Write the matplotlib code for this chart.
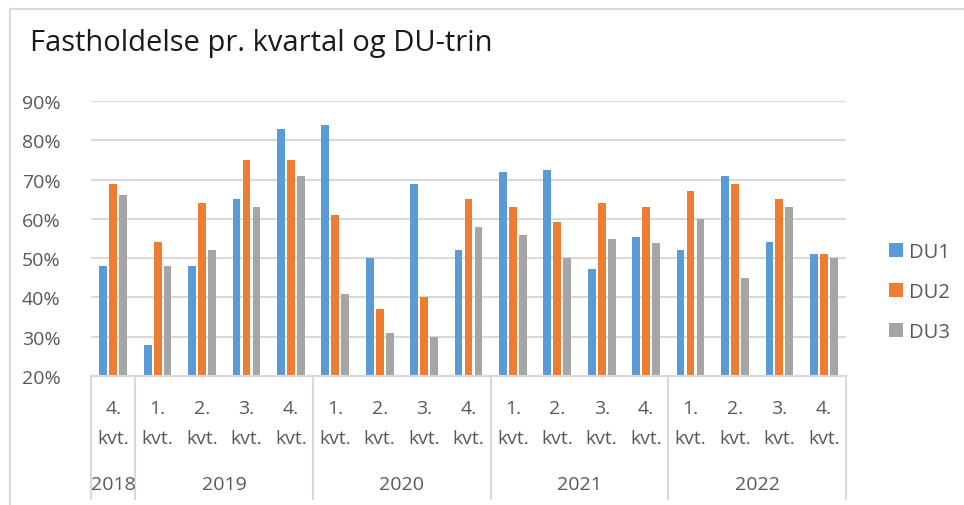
import matplotlib
matplotlib.use("Agg")
import matplotlib.pyplot as plt
from matplotlib.transforms import blended_transform_factory
from matplotlib.lines import Line2D
from matplotlib.patches import Patch
import numpy as np

plt.rcParams['font.family'] = ['Open Sans', 'DejaVu Sans']

quarters = ["4.", "1.", "2.", "3.", "4.", "1.", "2.", "3.", "4.",
            "1.", "2.", "3.", "4.", "1.", "2.", "3.", "4."]
years = ["2018", "2019", "2020", "2021", "2022"]
year_counts = [1, 4, 4, 4, 4]
du1 = [48, 28, 48, 65, 83, 84, 50, 69, 52, 72, 72.4, 47.3, 55.5, 52, 71, 54, 51]
du2 = [69, 54, 64, 75, 75, 61, 37, 40, 65, 63, 59.3, 64, 63, 67, 69, 65, 51]
du3 = [66, 48, 52, 63, 71, 41, 31, 30, 58, 56, 50, 55, 53.9, 60, 45, 63, 50]
series_names = ["DU1", "DU2", "DU3"]
colors = ["#5B9BD5", "#ED7D31", "#A5A5A5"]

W, H = 964, 506
fig = plt.figure(figsize=(W / 100, H / 100), dpi=100)
ax = fig.add_axes([91 / W, 1 - 377 / H, (846 - 91) / W, (377 - 102) / H])

x = np.arange(len(quarters))
off = 0.225
bw = 0.175
for i, (vals, c) in enumerate(zip([du1, du2, du3], colors)):
    ax.bar(x + (i - 1) * off, np.array(vals) / 100, width=bw, color=c, zorder=3)

ax.set_xlim(-0.5, len(quarters) - 0.5)
ax.set_ylim(0.2, 0.9)
yt = np.arange(0.2, 0.91, 0.1)
ax.set_yticks(yt)
ax.set_yticklabels([f"{int(round(v * 100))}%" for v in yt])
ax.tick_params(axis='y', length=0, pad=22, labelsize=14, labelcolor="#595959")
ax.set_xticks([])
ax.grid(axis='y', color="#D9D9D9", linewidth=1.5, zorder=0)
for s in ["top", "right", "left"]:
    ax.spines[s].set_visible(False)
ax.spines["bottom"].set_color("#D9D9D9")
ax.spines["bottom"].set_linewidth(1.5)
ax.spines["bottom"].set_zorder(4)

tr = blended_transform_factory(ax.transData, fig.transFigure)
tc = "#595959"
for i, q in enumerate(quarters):
    ax.text(i, 1 - 409 / H, q, transform=tr, ha="center", va="center",
            fontsize=14, color=tc)
    ax.text(i, 1 - 439 / H, "kvt.", transform=tr, ha="center", va="center",
            fontsize=14, color=tc)

bounds = np.concatenate([[0], np.cumsum(year_counts)]) - 0.5
for b in bounds:
    ax.add_line(Line2D([b, b], [1 - 377 / H, 1 - 500 / H], transform=tr,
                       color="#D9D9D9", linewidth=1.5, clip_on=False))
for y, a, b in zip(years, bounds[:-1], bounds[1:]):
    ax.text((a + b) / 2, 1 - 485 / H, y, transform=tr, ha="center",
            va="center", fontsize=14, color=tc)

fig.text(30 / W, 1 - 44 / H, "Fastholdelse pr. kvartal og DU-trin",
         fontsize=21, color="#1a1a1a", ha="left", va="center")

# chart border (left and top visible)
fig.add_artist(Line2D([9.5 / W, 9.5 / W], [0, 1 - 10 / H], transform=fig.transFigure,
                      color="#D9D9D9", linewidth=1.5))
fig.add_artist(Line2D([9.5 / W, 1], [1 - 10 / H, 1 - 10 / H], transform=fig.transFigure,
                      color="#D9D9D9", linewidth=1.5))

handles = [Patch(facecolor=c, edgecolor='none') for c in colors]
leg = fig.legend(handles, series_names, loc="center left",
                 bbox_to_anchor=(871 / W, 1 - 293 / H), frameon=False,
                 fontsize=14.5, labelcolor=tc, handlelength=0.7, handleheight=0.7,
                 handletextpad=0.3, labelspacing=1.0)

fig.savefig("out.png", dpi=100)
